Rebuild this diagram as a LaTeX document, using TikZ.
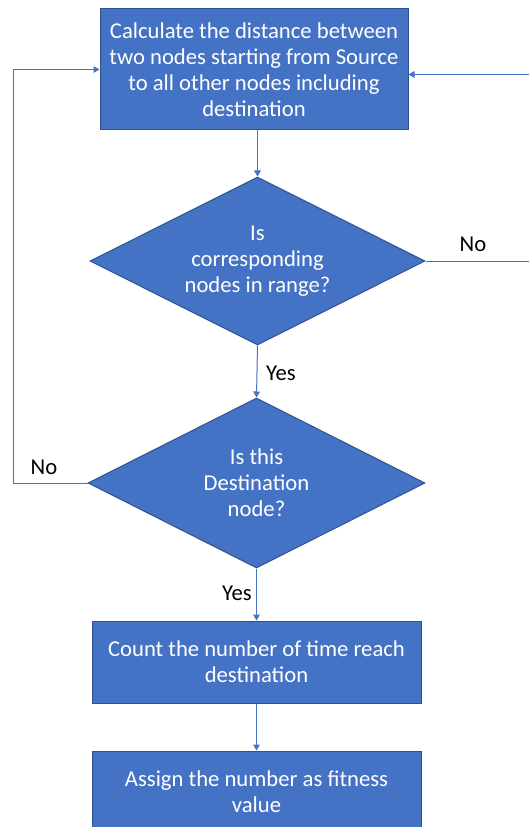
\documentclass[tikz,border=0pt]{standalone}
\usepackage{fontspec}
\setmainfont{Carlito}
\usetikzlibrary{shapes.geometric,arrows.meta,calc}
\definecolor{fillblue}{HTML}{4472C4}
\definecolor{edgeblue}{HTML}{2F528F}
\definecolor{linkblue}{HTML}{4472C4}

\begin{document}
\begin{tikzpicture}[x=0.75pt,y=-0.75pt,
  every node/.style={font=\fontsize{17}{19.5}\selectfont},
  proc/.style={rectangle, draw=edgeblue, line width=0.75pt, fill=fillblue,
    text=white, align=center, inner sep=0pt},
  decide/.style={diamond, aspect=2, draw=edgeblue, line width=0.75pt,
    fill=fillblue, text=white, align=center, inner sep=0pt},
  conn/.style={draw=linkblue, line width=0.75pt,
    -{Triangle[width=5pt,length=4.5pt]}},
  lbl/.style={text=black}]
\useasboundingbox (0,0) rectangle (528,827);

% process boxes and decisions
\node[proc, minimum width=231pt, minimum height=90.75pt] (box1) at (254,69.5)
  {Calculate the distance between\\two nodes starting from Source\\to all other nodes including\\destination};
\node[decide, minimum width=251.25pt, minimum height=126pt] (d1) at (257.5,261)
  {Is\\corresponding\\nodes in range?};
\node[decide, minimum width=252.75pt, minimum height=127.5pt] (d2) at (256.5,483)
  {Is this\\Destination\\node?};
\node[proc, minimum width=246.75pt, minimum height=61.5pt] (box3) at (256.5,662)
  {Count the number of time reach\\destination};
\node[proc, minimum width=246.75pt, minimum height=61.5pt] (box4) at (256.5,792)
  {Assign the number as fitness\\value};

% loop-back turning points (the right one lies just past the page edge)
\coordinate (lft) at (13,0);
\coordinate (rgt) at (533,0);

% connectors
\draw[conn] (box1.south -| d1.north) -- (d1.north);
\draw[conn] (d1.south) -- (d2.north);
\draw[conn] (d2.south) -- (box3.north);
\draw[conn] (box3.south) -- (box4.north);
\draw[conn] (d2.west) -- (d2.west -| lft) |- (box1.west);
\draw[conn] (d1.east) -- (d1.east -| rgt) |- ($(box1.east)+(0,5)$);

% branch labels
\node[lbl] (no1) at (473,244) {No};
\node[lbl] (yes1) at (281,373) {Yes};
\node[lbl] (no2) at (44,467) {No};
\node[lbl] (yes2) at (237,593) {Yes};
\end{tikzpicture}
\end{document}
